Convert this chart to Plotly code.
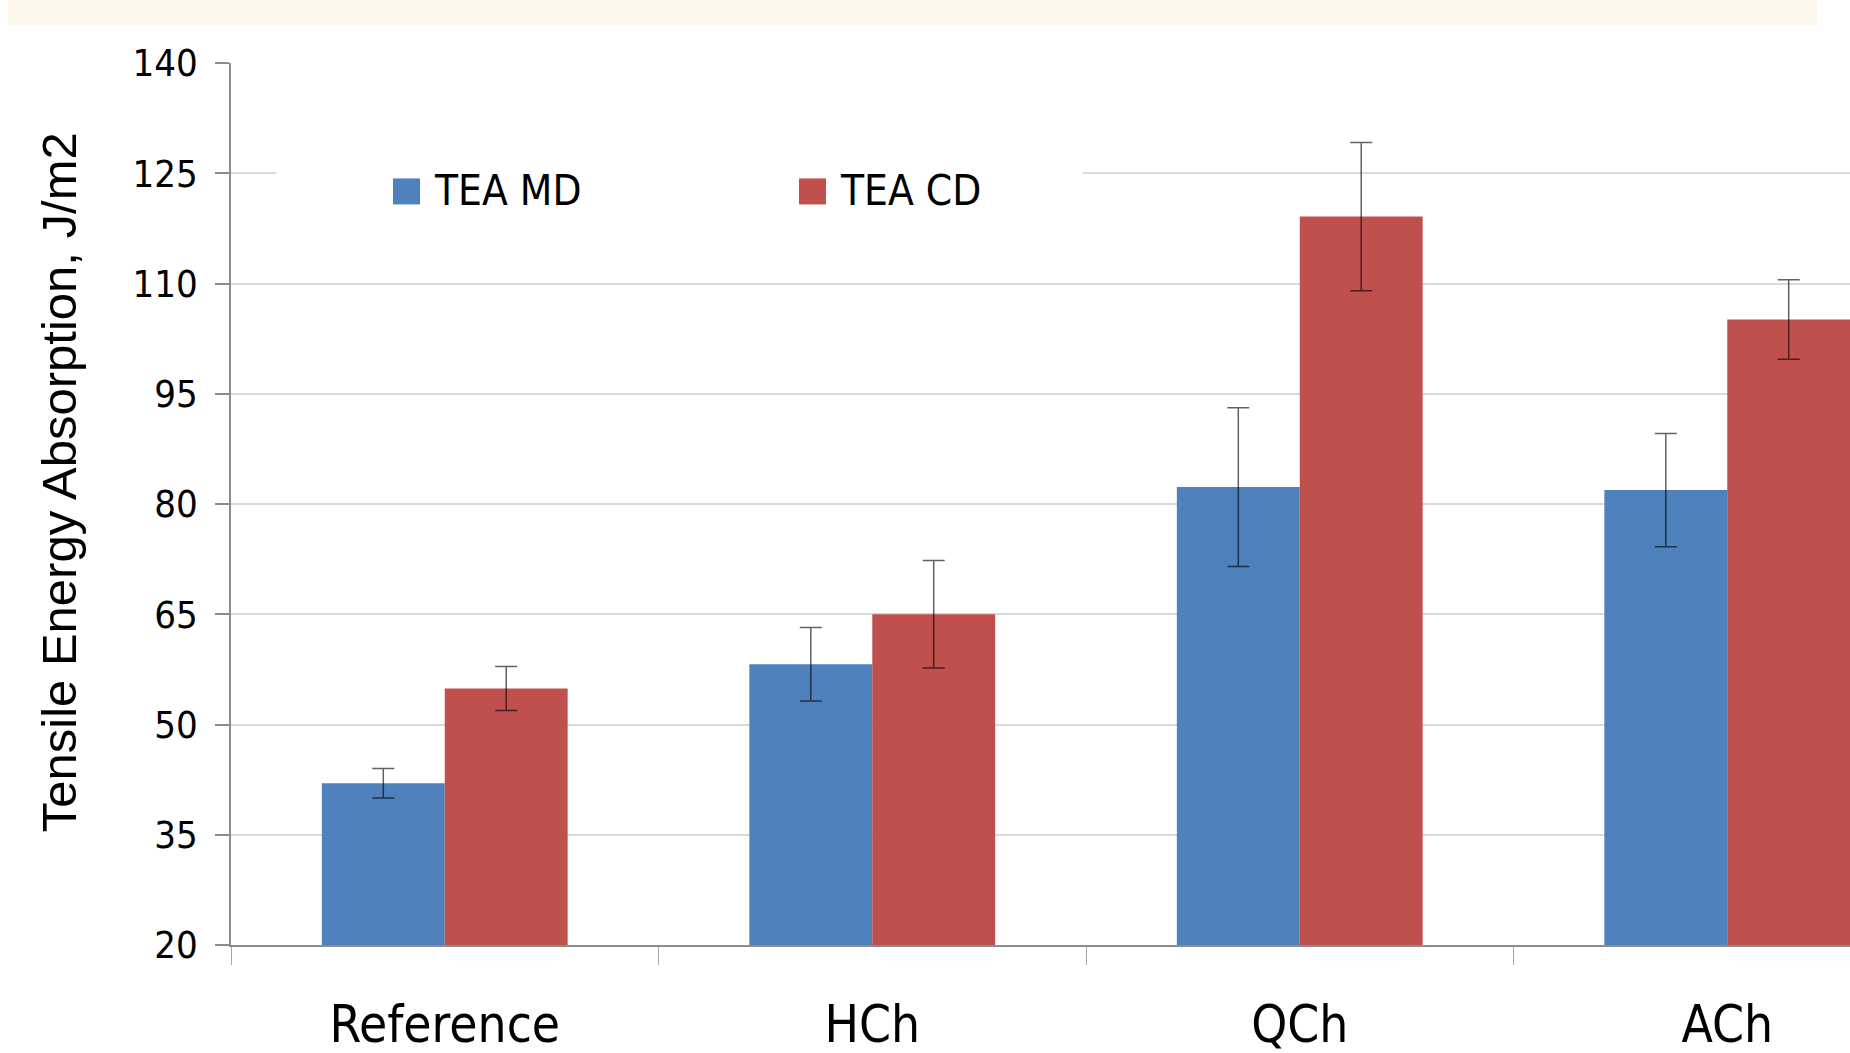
import plotly.graph_objects as go

# ---- data ----
categories = ["Reference", "HCh", "QCh", "ACh"]
tea_md = [42.0, 58.2, 82.3, 81.9]
tea_md_err = [2.0, 5.0, 10.8, 7.7]
tea_cd = [54.9, 65.0, 119.1, 105.1]
tea_cd_err = [3.0, 7.3, 10.1, 5.4]
series_names = ["TEA MD", "TEA CD"]
series_colors = ["#4F81BD", "#C0504D"]
y_ticks = [20, 35, 50, 65, 80, 95, 110, 125, 140]
y_title = "Tensile Energy Absorption, J/m2"

# ---- layout geometry (page pixels; body margin is removed below) ----
W, H = 1850, 1053
L, R, T, B = 231, 1850, 62.5, 945
CAT_PX = 427.5                      # pixels per category


def px(X):
    return (X - L) / (R - L)


def py(Y):
    return (B - Y) / (B - T)


NARROW = "Liberation Sans Narrow, Arial Narrow, DejaVu Sans Condensed, sans-serif"

fig = go.Figure()
for name, vals, errs, col in [
    (series_names[0], tea_md, tea_md_err, series_colors[0]),
    (series_names[1], tea_cd, tea_cd_err, series_colors[1]),
]:
    fig.add_trace(go.Bar(
        x=categories, y=vals, name=name, marker_color=col,
        marker_line_width=0, showlegend=False,
        error_y=dict(type="data", array=errs, visible=True,
                     color="rgba(0,0,0,0.62)", thickness=1.5, width=11),
    ))

shapes = [
    # title banner (partially visible at top)
    dict(type="rect", xref="paper", yref="paper", x0=px(8), x1=px(1817),
         y0=py(25), y1=py(0), fillcolor="#FCF8EC", line_width=0, layer="above"),
    # legend background
    dict(type="rect", xref="paper", yref="paper", x0=px(276), x1=px(1083),
         y0=py(230), y1=py(140), fillcolor="white", line_width=0, layer="above"),
    dict(type="rect", xref="paper", yref="paper", x0=px(393), x1=px(420),
         y0=py(204), y1=py(178), fillcolor=series_colors[0], line_width=0, layer="above"),
    dict(type="rect", xref="paper", yref="paper", x0=px(799), x1=px(826),
         y0=py(204), y1=py(178), fillcolor=series_colors[1], line_width=0, layer="above"),
]

annotations = [
    dict(text=series_names[0], xref="paper", yref="paper", x=px(432), y=py(190),
         xanchor="left", yanchor="middle", showarrow=False,
         font=dict(family=NARROW, size=42, color="black")),
    dict(text=series_names[1], xref="paper", yref="paper", x=px(838), y=py(190),
         xanchor="left", yanchor="middle", showarrow=False,
         font=dict(family=NARROW, size=42, color="black")),
    dict(text=y_title, xref="paper", yref="paper", x=px(59), y=py(482),
         xanchor="center", yanchor="middle", textangle=-90, showarrow=False,
         font=dict(family="Liberation Sans, Arial, sans-serif", size=49, color="black")),
]

fig.update_layout(
    width=W, height=H,
    margin=dict(l=L, r=W - R, t=T, b=H - B, pad=0, autoexpand=False),
    paper_bgcolor="white", plot_bgcolor="white",
    barmode="group", bargap=0.425, bargroupgap=0,
    shapes=shapes, annotations=annotations,
    xaxis=dict(
        range=[-0.5, -0.5 + (R - L) / CAT_PX], automargin=False,
        showline=True, linecolor="#8C8C8C", linewidth=1.5,
        ticks="outside", tickson="boundaries", ticklen=18, tickwidth=1,
        tickcolor="#A6A6A6", showgrid=False,
        tickfont=dict(family=NARROW, size=51, color="black"),
        ticklabelstandoff=34,
    ),
    yaxis=dict(
        range=[20, 140], tickvals=y_ticks, automargin=False,
        showline=True, linecolor="#8C8C8C", linewidth=1.5,
        ticks="outside", ticklen=14, tickwidth=1.5, tickcolor="#8C8C8C",
        showgrid=True, gridcolor="#D9D9D9", gridwidth=2,
        zeroline=False,
        tickfont=dict(family=NARROW, size=38, color="black"),
        ticklabelstandoff=10,
    ),
)

fig.write_html(
    "out.html",
    config={"displayModeBar": False},
    post_script="document.body.style.margin='0';"
                "document.documentElement.style.overflow='hidden';"
                "document.body.style.overflow='hidden';",
)
